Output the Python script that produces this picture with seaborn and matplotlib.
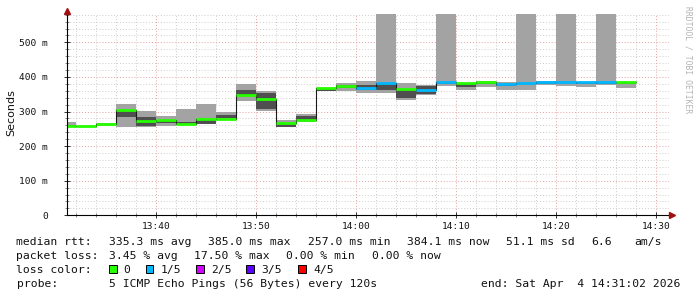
import numpy as np
import pandas as pd
import matplotlib
matplotlib.use("Agg")
import matplotlib.pyplot as plt
import seaborn as sns
from matplotlib.patches import Rectangle

# ---------------- data ----------------
interval_start = ["13:30", "13:32", "13:34", "13:36", "13:38", "13:40", "13:42", "13:44",
                  "13:46", "13:48", "13:50", "13:52", "13:54", "13:56", "13:58", "14:00",
                  "14:02", "14:04", "14:06", "14:08", "14:10", "14:12", "14:14", "14:16",
                  "14:18", "14:20", "14:22", "14:24", "14:26"]
median_ms = [259, 257, 264, 305, 273, 275, 265, 278, 279, 349, 337, 268, 276, 367, 374, 369,
             383, 366, 363, 385, 382, 385, 379, 382, 385, 385, 385, 384, 384.1]
lost_pings = [0, 0, 0, 0, 0, 0, 0, 0, 0, 0, 0, 0, 0, 0, 0, 1,
              1, 0, 1, 1, 0, 0, 1, 1, 1, 1, 1, 1, 0]
ping_min_ms = [256, 255, 257, 256, 256, 258, 262, 265, 278, 330, 302, 256, 270, 358, 360, 355,
               354, 333, 348, 374, 362, 370, 362, 362, 376, 374, 370, 378, 367]
# NaN = a ping was lost, smoke reaches the top of the graph
ping_max_ms = [269, 259, 266, 322, 301, 287, 307, 322, 300, 380, 359, 276, 292, 369, 382, 387,
               np.nan, 382, 376, np.nan, 381, 387, 386, np.nan, 387, np.nan, 386, np.nan, 386]
ping_q1_ms = [257, 256, 260, 285, 258, 266, 262, 265, 280, 348, 307, 256, 273, 360, 368, 362,
              362, 338, 351, 380, 370, 380, 374, 379, 380, 382, 380, 381, 381]
ping_q3_ms = [262, 258, 265, 303, 284, 273, 270, 277, 291, 362, 353, 265, 287, 367, 378, 376,
              380, 362, 374, 385, 380, 385, 381, 382, 385, 385, 385, 384, 384]
step_minutes = 2

loss_labels = ["0", "1/5", "2/5", "3/5", "4/5"]
loss_colors = ["#26ff00", "#00b8ff", "#d200ff", "#5e00ff", "#ff0000"]

x_tick_labels = ["13:40", "13:50", "14:00", "14:10", "14:20", "14:30"]
y_tick_values = [0, 100, 200, 300, 400, 500]
y_tick_labels = ["0", "100 m", "200 m", "300 m", "400 m", "500 m"]

line1 = [("median rtt:", 0), ("335.3 ms avg", 13), ("385.0 ms max", 27), ("257.0 ms min", 41),
         ("384.1 ms now", 55), ("51.1 ms sd", 69), ("6.6", 81), ("am/s", 87)]
line2 = [("packet loss:", 0), ("3.45 % avg", 13), ("17.50 % max", 25), ("0.00 % min", 38),
         ("0.00 % now", 50)]
line3_title = "loss color:"
line4 = [("probe:", 0), ("5 ICMP Echo Pings (56 Bytes) every 120s", 13)]
end_text = "end: Sat Apr  4 14:31:02 2026"
watermark = "RRDTOOL / TOBI OETIKER"


def to_min(s):
    h, m = s.split(":")
    return (int(h) - 13) * 60 + int(m)


# ---------------- figure ----------------
sns.set_theme(style="white")
plt.rcParams["font.family"] = ["DejaVu Sans Mono", "DejaVu Sans"]

W, H = 697, 297
fig = plt.figure(figsize=(W / 100, H / 100), dpi=100, facecolor="white")
L, R, T, B = 66.5, 669, 14, 215.3
ax = fig.add_axes([L / W, 1 - B / H, (R - L) / W, (B - T) / H])
ax.set_facecolor("white")

YTOP = 582
ax.set_xlim(to_min("13:31"), to_min("14:31") + 0.3)
ax.set_ylim(0, YTOP)

df = pd.DataFrame({
    "start": [to_min(s) for s in interval_start],
    "median": median_ms,
    "lost": lost_pings,
    "lo": ping_min_ms,
    "hi": ping_max_ms,
    "q1": ping_q1_ms,
    "q3": ping_q3_ms,
})
df["hi_draw"] = df["hi"].fillna(YTOP + 10)

# smoke
ax.bar(df["start"], df["hi_draw"] - df["lo"], bottom=df["lo"], width=step_minutes,
       align="edge", color="#a3a3a3", linewidth=0, zorder=2)
ax.bar(df["start"], df["q3"] - df["q1"], bottom=df["q1"], width=step_minutes,
       align="edge", color="#4f4f4f", linewidth=0, zorder=3)

# median step line (black connector)
med = pd.DataFrame({
    "t": list(df["start"]) + [df["start"].iloc[-1] + step_minutes],
    "v": list(df["median"]) + [df["median"].iloc[-1]],
})
sns.lineplot(data=med, x="t", y="v", drawstyle="steps-post", color="#1a1a1a",
             linewidth=0.8, estimator=None, ax=ax, zorder=4)
# colored median by loss
ax.hlines(df["median"], df["start"], df["start"] + step_minutes,
          colors=[loss_colors[k] for k in df["lost"]], linewidth=2.0, zorder=5)

# grid
major_x = [to_min(s) for s in x_tick_labels]
ax.set_xticks(major_x)
ax.set_xticklabels(x_tick_labels)
ax.set_xticks(np.arange(to_min("13:32"), to_min("14:31"), step_minutes), minor=True)
ax.set_yticks(y_tick_values)
ax.set_yticklabels(y_tick_labels)
ax.set_yticks(np.arange(20, YTOP, 20), minor=True)
ax.grid(which="major", color="#e4a0a0", linestyle=(0, (1, 2)), linewidth=0.7, zorder=0)
ax.grid(which="minor", color="#cccccc", linestyle=(0, (1, 2)), linewidth=0.7, zorder=0)
ax.set_axisbelow(True)

ax.tick_params(which="major", direction="inout", length=4, width=0.7, color="#333333",
               bottom=True, left=True)
ax.tick_params(which="minor", direction="inout", length=3, width=0.6, color="#777777",
               bottom=True, left=True)
ax.tick_params(axis="y", which="major", pad=11.5, labelsize=6.8, labelcolor="#111111")
ax.tick_params(axis="x", which="major", pad=2.5, labelsize=6.8, labelcolor="#111111")
for lab in ax.get_xticklabels() + ax.get_yticklabels():
    lab.set_family("DejaVu Sans Mono")

for s in ["top", "right"]:
    ax.spines[s].set_visible(False)
for s in ["left", "bottom"]:
    ax.spines[s].set_color("#000000")
    ax.spines[s].set_linewidth(0.8)
    ax.spines[s].set_zorder(6)

ax.set_xlabel("")
ax.set_ylabel("")

# axis arrows
ax.plot([0], [1 + 3.5 / (B - T)], marker="^", color="#a01010", markersize=4.2,
        transform=ax.transAxes, clip_on=False, zorder=7)
ax.plot([0, 0], [1, 1 + 2 / (B - T)], color="#000000", lw=0.8,
        transform=ax.transAxes, clip_on=False, zorder=6)
ax.plot([1 + 2.5 / (R - L)], [0], marker=">", color="#a01010", markersize=4.2,
        transform=ax.transAxes, clip_on=False, zorder=7)

fig.text(11 / W, 1 - 113 / H, "Seconds", rotation=90, ha="center", va="center",
         fontsize=8, family="DejaVu Sans", color="#111111")

# legend / summary text
X0, CW = 16.5, 7.1
FS = 8.2
def put(text, x, ybase, ha="left"):
    fig.text(x / W, 1 - ybase / H, text, ha=ha, va="baseline", fontsize=FS,
             family="DejaVu Sans Mono", color="#111111")

for txt, col in line1:
    put(txt, X0 + col * CW, 245.2)
for txt, col in line2:
    put(txt, X0 + col * CW, 258.8)
put(line3_title, X0, 272.9)
box_x = [109, 145.7, 196, 246, 298]
lab_x = [123, 161, 211, 261.3, 313.3]
for bx, lx, c, lab in zip(box_x, lab_x, loss_colors, loss_labels):
    fig.add_artist(Rectangle((bx / W, 1 - 273 / H), 7.5 / W, 7.8 / H,
                             transform=fig.transFigure, facecolor=c,
                             edgecolor="black", linewidth=0.7))
    put(lab, lx, 272.9)
for txt, col in line4:
    put(txt, X0 + col * CW, 286.8)
put(end_text, 680.5, 286.8, ha="right")

fig.text(688 / W, 1 - 60 / H, watermark, rotation=270, ha="center", va="center",
         fontsize=5.8, family="DejaVu Sans Mono", color="#b4b4b4")

fig.savefig("out.png", dpi=100, facecolor="white")
